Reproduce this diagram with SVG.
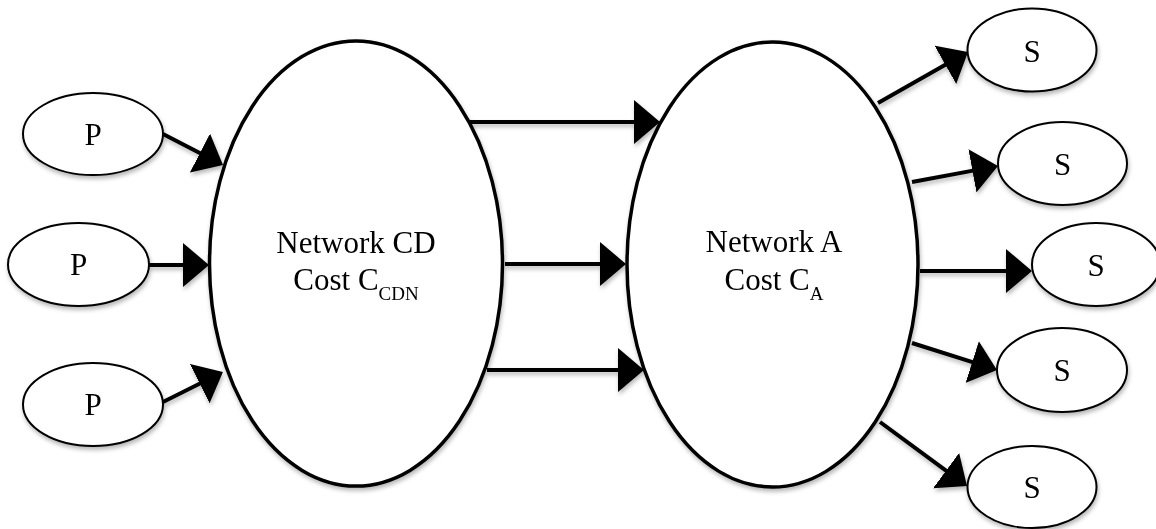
<svg xmlns="http://www.w3.org/2000/svg" width="1156" height="529" viewBox="0 0 1156 529">
<style>
.big{fill:#fff;stroke:#000;stroke-width:3.5}
.small{fill:#fff;stroke:#000;stroke-width:2}
.lbl{font-family:"Liberation Serif","Times New Roman",serif;font-size:31px;fill:#000;text-anchor:middle}
.sub{font-size:19px}
.conn line{stroke:#000;stroke-width:4;marker-end:url(#ah)}
</style>
<defs>
<filter id="sh" x="-20%" y="-20%" width="140%" height="140%">
<feDropShadow dx="1" dy="3" stdDeviation="2.2" flood-color="#000" flood-opacity="0.28"/>
</filter>
<marker id="ah" viewBox="0 0 26 44" refX="2" refY="22" markerWidth="26" markerHeight="44" markerUnits="userSpaceOnUse" orient="auto">
<path d="M0,0 L26,22 L0,44 Z" fill="#000"/>
</marker>
</defs>
<rect width="1156" height="529" fill="#fff"/>
<g filter="url(#sh)">
<g id="cdn"><ellipse class="big" cx="356" cy="263.5" rx="146.5" ry="222.5"/>
<text class="lbl" x="356" y="253">Network CD</text>
<text class="lbl" x="356" y="290">Cost C<tspan class="sub" dy="10">CDN</tspan></text></g>
<g id="neta"><ellipse class="big" cx="772.5" cy="264.5" rx="145.5" ry="222.5"/>
<text class="lbl" x="774" y="252">Network A</text>
<text class="lbl" x="774" y="290">Cost C<tspan class="sub" dy="10">A</tspan></text></g>
<g id="p1"><ellipse class="small" cx="93" cy="134" rx="70" ry="41"/><text class="lbl" x="93" y="145">P</text></g>
<g id="p2"><ellipse class="small" cx="78.5" cy="264.5" rx="70.5" ry="41.5"/><text class="lbl" x="78.5" y="275">P</text></g>
<g id="p3"><ellipse class="small" cx="93" cy="404.5" rx="70" ry="41.5"/><text class="lbl" x="93" y="415">P</text></g>
<g id="s1"><ellipse class="small" cx="1032" cy="50" rx="64.5" ry="41.5"/><text class="lbl" x="1032" y="62">S</text></g>
<g id="s2"><ellipse class="small" cx="1062.5" cy="163.5" rx="64.5" ry="41.5"/><text class="lbl" x="1062.5" y="175">S</text></g>
<g id="s3"><ellipse class="small" cx="1096" cy="264.5" rx="64" ry="41.5"/><text class="lbl" x="1096" y="276">S</text></g>
<g id="s4"><ellipse class="small" cx="1062" cy="370" rx="65" ry="42"/><text class="lbl" x="1062" y="381">S</text></g>
<g id="s5"><ellipse class="small" cx="1032" cy="487" rx="64.5" ry="41"/><text class="lbl" x="1032" y="498">S</text></g>
<g id="connectors" class="conn">
<line x1="163" y1="134" x2="201.7" y2="154"/>
<line x1="149" y1="265" x2="185" y2="265"/>
<line x1="163" y1="402" x2="201.5" y2="382.7"/>
<line x1="470" y1="122" x2="636" y2="122"/>
<line x1="505" y1="264" x2="602" y2="264"/>
<line x1="487" y1="370" x2="620" y2="370"/>
<line x1="878" y1="103" x2="947.1" y2="63.8"/>
<line x1="912" y1="182" x2="974.4" y2="170.4"/>
<line x1="920" y1="271" x2="1008" y2="271"/>
<line x1="912" y1="343" x2="974.1" y2="362.7"/>
<line x1="880" y1="422" x2="947.7" y2="471.8"/>
</g>
</g>
</svg>
